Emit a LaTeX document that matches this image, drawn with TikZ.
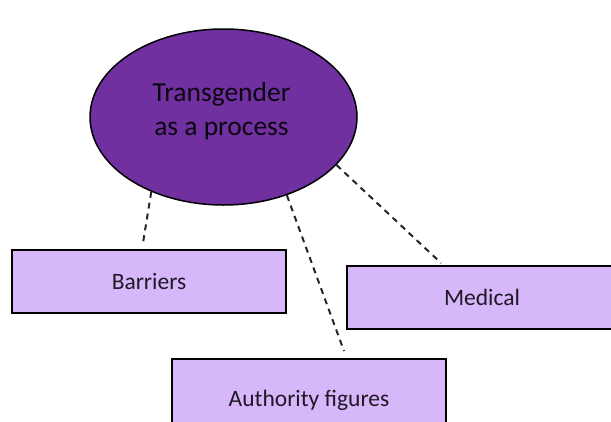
\documentclass[tikz,border=0pt]{standalone}
\usepackage{fontspec}
\setmainfont{Carlito}
\usetikzlibrary{shapes.geometric}
\definecolor{ellfill}{HTML}{7030A0}
\definecolor{boxfill}{HTML}{D6B7FA}
\definecolor{txtdark}{HTML}{201826}
\tikzset{
  labelbox/.style={draw=black, line width=1.9pt, fill=boxfill, inner sep=0pt, text=txtdark,
    font=\fontsize{23.5}{28}\selectfont},
  conn/.style={draw=black!85, line width=2pt, dash pattern=on 6pt off 5pt},
}
\begin{document}
\begin{tikzpicture}[x=1pt,y=-1pt]
\useasboundingbox (0,0) rectangle (611,421);
\node[ellipse, draw=black, line width=1.5pt, fill=ellfill, minimum width=267pt, minimum height=176pt, inner sep=0pt] (ell) at (223.5,117) {};
\node[align=center, text=black!90!ellfill, font=\fontsize{27.5}{34}\selectfont, inner sep=0pt] (etxt) at (221.5,111) {Transgender\\as a process};
\node[labelbox, minimum width=274pt, minimum height=63pt] (bar) at (149,281.5) {Barriers};
\node[labelbox, minimum width=270pt, minimum height=63pt] (med) at (482,297.5) {Medical};
\node[labelbox, minimum width=274pt, minimum height=82pt] (auth) at (309,400) {Authority figures};
\coordinate (bend) at (143,243);
\coordinate (aend) at (344,351);
\coordinate (mend) at (441,263);
\draw[conn] (ell.226) -- (bend);
\draw[conn] (ell.309) -- (aend);
\draw[conn] (ell.-23) -- (mend);
\end{tikzpicture}
\end{document}
